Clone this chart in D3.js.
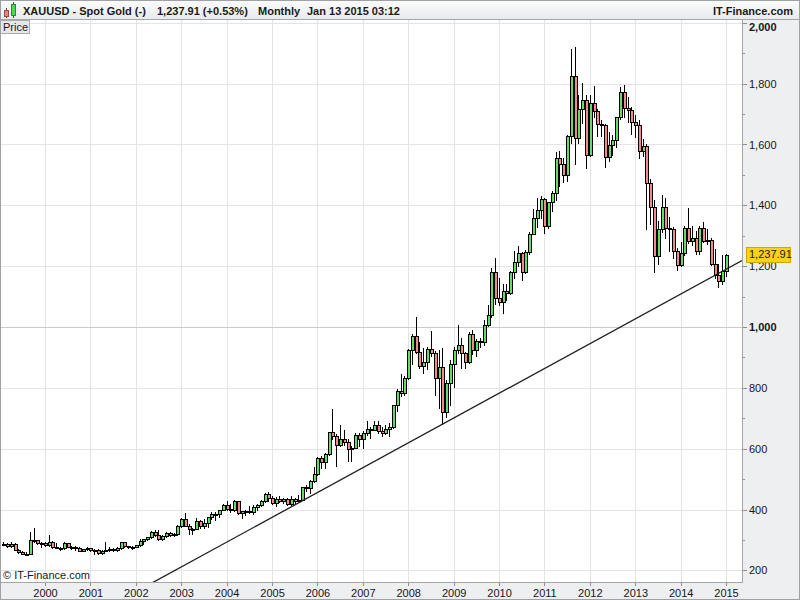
<!DOCTYPE html>
<html>
<head>
<meta charset="utf-8">
<script src="https://cdn.jsdelivr.net/npm/d3@7"></script>
<style>
  body { margin: 0; background: #fff; }
  svg { display: block; font-family: "Liberation Sans", Arial, sans-serif; }
</style>
</head>
<body>
<div id="chart"></div>
<script>
"use strict";

// Spot gold, monthly candles from Feb 1999 to Jan 2015
const firstMonth = new Date(1999, 1, 1);

const openPrices = [
    287.0, 287.5, 279.5, 286.0, 268.5, 261.5, 255.5, 254.5, 298.5, 299.0, 291.5,                  // 1999
    288.5, 283.5, 293.5, 278.5, 275.0, 272.5, 288.5, 277.0, 277.5, 273.5, 264.5, 269.5,           // 2000
    272.5, 265.5, 266.5, 258.0, 263.5, 267.0, 270.5, 266.0, 273.0, 293.0, 279.0, 275.5,           // 2001
    278.5, 282.5, 296.5, 302.0, 308.5, 326.5, 318.0, 304.5, 312.5, 324.0, 317.0, 318.5,           // 2002
    347.5, 367.5, 347.5, 334.5, 337.5, 361.0, 346.5, 354.5, 375.5, 386.0, 384.0, 398.0,           // 2003
    416.0, 402.0, 397.0, 427.5, 387.5, 394.0, 395.5, 391.5, 408.0, 415.5, 428.0, 452.5,           // 2004
    438.0, 422.5, 434.5, 428.5, 435.5, 417.0, 436.0, 429.0, 433.0, 473.0, 470.0, 495.5,           // 2005
    517.0, 568.5, 556.0, 582.0, 654.0, 643.0, 613.5, 632.5, 623.5, 599.5, 603.5, 646.5,           // 2006
    632.0, 650.5, 664.5, 661.5, 679.5, 657.0, 650.5, 665.5, 672.5, 743.0, 789.5, 783.5,           // 2007
    833.5, 923.5, 971.5, 917.0, 872.0, 885.0, 927.0, 913.0, 831.0, 870.0, 721.0, 815.0,           // 2008
    877.0, 925.0, 941.0, 916.0, 885.0, 977.0, 926.0, 954.0, 951.0, 1007.0, 1040.0, 1181.0,        // 2009
    1096.0, 1081.0, 1118.0, 1113.0, 1180.0, 1213.0, 1244.0, 1181.0, 1247.0, 1307.0, 1359.0, 1386.0, // 2010
    1421, 1333, 1410, 1439, 1556, 1536, 1500, 1628, 1826, 1620, 1716, 1746,                       // 2011
    1565, 1738, 1710, 1668, 1664, 1560, 1598, 1615, 1691, 1773, 1719, 1713,                       // 2012
    1675, 1663, 1578, 1595, 1472, 1393, 1234, 1323, 1396, 1327, 1323, 1250,                       // 2013
    1204, 1244, 1326, 1284, 1291, 1250, 1327, 1282, 1287, 1208, 1171, 1150,                       // 2014
    1184                                                                                          // 2015
];

const highPrices = [
    292.0, 290.0, 292.0, 290.0, 270.0, 264.0, 260.0, 326.0, 338.0, 301.5, 292.5,
    292.0, 316.0, 295.0, 289.0, 277.5, 294.0, 291.5, 279.5, 279.5, 275.5, 271.5, 275.5,
    273.5, 270.5, 270.0, 266.0, 294.0, 275.5, 272.0, 278.5, 294.0, 293.5, 280.0, 280.5,
    284.0, 303.5, 304.5, 309.0, 328.0, 332.0, 331.5, 316.5, 327.0, 325.0, 324.5, 350.0,
    372.0, 389.0, 353.0, 341.0, 371.5, 367.0, 369.0, 377.0, 391.5, 393.5, 399.0, 417.5,
    427.0, 418.0, 431.5, 429.0, 396.0, 399.0, 411.0, 414.0, 418.5, 430.5, 456.0, 456.5,
    443.0, 440.0, 445.5, 438.0, 437.0, 443.0, 437.0, 448.0, 475.0, 480.0, 497.0, 541.0,
    572.0, 575.0, 585.0, 655.0, 730.0, 647.0, 677.0, 663.0, 633.0, 608.0, 650.0, 650.0,
    659.0, 690.0, 671.0, 692.0, 691.0, 672.0, 679.0, 684.0, 745.0, 795.0, 845.0, 840.0,
    928.0, 976.0, 1033.0, 951.0, 930.0, 935.0, 988.0, 920.0, 923.0, 930.0, 827.0, 890.0,
    935.0, 1006.0, 963.0, 917.0, 982.0, 990.0, 960.0, 964.0, 1024.0, 1072.0, 1195.0, 1227.0,
    1162.0, 1141.0, 1140.0, 1184.0, 1250.0, 1265.0, 1245.0, 1252.0, 1311.0, 1388.0, 1425.0, 1431.0,
    1424, 1411, 1447, 1576, 1577, 1556, 1632, 1913, 1921, 1764, 1803, 1764,
    1764, 1792, 1718, 1680, 1667, 1641, 1632, 1692, 1790, 1796, 1755, 1723,
    1696, 1681, 1617, 1600, 1487, 1419, 1348, 1434, 1425, 1361, 1330, 1261,
    1280, 1332, 1392, 1331, 1315, 1332, 1345, 1322, 1291, 1255, 1208, 1238,
    1240
];

const lowPrices = [
    282.5, 278.0, 278.5, 266.5, 256.5, 252.5, 252.0, 252.5, 292.0, 288.0, 275.5,
    281.5, 281.0, 274.5, 272.5, 268.5, 271.5, 275.5, 270.5, 266.5, 263.5, 262.5, 266.5,
    262.5, 255.5, 255.5, 255.0, 262.5, 264.5, 264.5, 265.0, 270.5, 277.0, 272.5, 270.5,
    276.5, 281.0, 286.5, 299.0, 307.5, 314.0, 301.5, 300.5, 311.0, 311.5, 314.0, 317.0,
    342.5, 344.5, 320.5, 319.0, 337.0, 341.0, 341.0, 343.0, 370.5, 364.5, 377.0, 397.0,
    397.5, 390.5, 395.5, 386.5, 371.5, 381.0, 387.5, 386.0, 397.0, 410.5, 423.5, 428.5,
    417.5, 411.0, 424.0, 423.0, 414.0, 414.0, 418.0, 427.0, 432.0, 461.0, 456.0, 490.0,
    515.0, 538.0, 537.0, 580.0, 633.0, 543.0, 609.0, 612.0, 560.0, 560.0, 602.0, 610.0,
    603.0, 646.0, 636.0, 661.0, 650.0, 641.0, 648.0, 642.0, 668.0, 725.0, 773.0, 777.0,
    830.0, 877.0, 913.0, 864.0, 848.0, 863.0, 904.0, 775.0, 735.0, 681.0, 705.0, 743.0,
    802.0, 914.0, 865.0, 865.0, 882.0, 912.0, 905.0, 933.0, 942.0, 1003.0, 1034.0, 1075.0,
    1074.0, 1045.0, 1088.0, 1108.0, 1160.0, 1200.0, 1155.0, 1177.0, 1241.0, 1305.0, 1330.0, 1360.0,
    1308, 1324, 1381, 1418, 1462, 1478, 1480, 1604, 1535, 1605, 1670, 1523,
    1563, 1689, 1628, 1628, 1527, 1547, 1564, 1593, 1685, 1690, 1673, 1635,
    1626, 1555, 1562, 1321, 1338, 1180, 1208, 1311, 1292, 1251, 1227, 1187,
    1201, 1238, 1277, 1269, 1240, 1240, 1280, 1273, 1205, 1161, 1131, 1142,
    1167
];

const closePrices = [
    287.5, 279.5, 286.0, 268.5, 261.5, 255.5, 254.5, 298.5, 299.0, 291.5, 288.5,
    283.5, 293.5, 278.5, 275.0, 272.5, 288.5, 277.0, 277.5, 273.5, 264.5, 269.5, 272.5,
    265.5, 266.5, 258.0, 263.5, 267.0, 270.5, 266.0, 273.0, 293.0, 279.0, 275.5, 278.5,
    282.5, 296.5, 302.0, 308.5, 326.5, 318.0, 304.5, 312.5, 324.0, 317.0, 318.5, 347.5,
    367.5, 347.5, 334.5, 337.5, 361.0, 346.5, 354.5, 375.5, 386.0, 384.0, 398.0, 416.0,
    402.0, 397.0, 427.5, 387.5, 394.0, 395.5, 391.5, 408.0, 415.5, 428.0, 452.5, 438.0,
    422.5, 434.5, 428.5, 435.5, 417.0, 436.0, 429.0, 433.0, 473.0, 470.0, 495.5, 517.0,
    568.5, 556.0, 582.0, 654.0, 643.0, 613.5, 632.5, 623.5, 599.5, 603.5, 646.5, 632.0,
    650.5, 664.5, 661.5, 679.5, 657.0, 650.5, 665.5, 672.5, 743.0, 789.5, 783.5, 833.5,
    923.5, 971.5, 917.0, 872.0, 885.0, 927.0, 913.0, 831.0, 870.0, 721.0, 815.0, 877.0,
    925.0, 941.0, 916.0, 885.0, 977.0, 926.0, 954.0, 951.0, 1007.0, 1040.0, 1181.0, 1096.0,
    1081.0, 1118.0, 1113.0, 1180.0, 1213.0, 1244.0, 1181.0, 1247.0, 1307.0, 1359.0, 1386.0, 1421.0,
    1333, 1410, 1439, 1556, 1536, 1500, 1628, 1826, 1620, 1716, 1746, 1565,
    1738, 1710, 1668, 1664, 1560, 1598, 1615, 1691, 1773, 1719, 1713, 1675,
    1663, 1578, 1595, 1472, 1393, 1234, 1323, 1396, 1327, 1323, 1250, 1204,
    1244, 1326, 1284, 1291, 1250, 1327, 1282, 1287, 1208, 1171, 1150, 1184,
    1237.91
];

const priceTicks = [200, 400, 600, 800, 1000, 1200, 1400, 1600, 1800, 2000];
const minorPriceTicks = [300, 500, 700, 900, 1100, 1300, 1500, 1700, 1900];
const lastPrice = 1237.91;

// support line drawn through the Oct 2008 and Nov 2014 lows
const trendAnchors = [
    { date: new Date(2008, 9, 1), price: 680 },
    { date: new Date(2014, 10, 1), price: 1176 }
];

const headerTexts = [
    { text: "XAUUSD - Spot Gold (-)", x: 23 },
    { text: "1,237.91 (+0.53%)", x: 157 },
    { text: "Monthly", x: 258 },
    { text: "Jan 13 2015 03:12", x: 307 }
];

// Layout
const W = 800, H = 600;
const plot = { left: 0, right: 742, top: 20, bottom: 582 };
const upColor = "#66dc66";
const downColor = "#f08c8c";
const panelColor = "#eeeff1";
const gridColor = "#e4e4e4";
const textColor = "#16161e";

const candles = closePrices.map((c, i) => ({
    date: d3.timeMonth.offset(firstMonth, i),
    open: openPrices[i],
    high: highPrices[i],
    low: lowPrices[i],
    close: c
}));

// Scales: Jan 2000 sits on x=45, Jan 2015 on x=726
const x = d3.scaleTime()
    .domain([new Date(2000, 0, 1), new Date(2015, 0, 1)])
    .range([45, 726]);
x.domain([x.invert(plot.left), x.invert(plot.right)]).range([plot.left, plot.right]);

const y = d3.scaleLinear()
    .domain([200, 2000])
    .range([570.4, 22.8]);

const svg = d3.select("#chart")
    .append("svg")
    .attr("width", W)
    .attr("height", H);

const defs = svg.append("defs");
const grad = defs.append("linearGradient")
    .attr("id", "headGrad")
    .attr("x1", 0).attr("y1", 0).attr("x2", 0).attr("y2", 1);
grad.append("stop").attr("offset", "0%").attr("stop-color", "#fdfdfd");
grad.append("stop").attr("offset", "100%").attr("stop-color", "#e7e9eb");

defs.append("clipPath").attr("id", "plotClip")
    .append("rect")
    .attr("x", plot.left).attr("y", plot.top)
    .attr("width", plot.right - plot.left)
    .attr("height", plot.bottom - plot.top);

// Background and panels
svg.append("rect").attr("width", W).attr("height", H).attr("fill", "#fff");
svg.append("rect")
    .attr("x", plot.right).attr("y", plot.top)
    .attr("width", W - plot.right).attr("height", H - plot.top)
    .attr("fill", panelColor);
svg.append("rect")
    .attr("x", 0).attr("y", plot.bottom)
    .attr("width", plot.right).attr("height", H - plot.bottom)
    .attr("fill", panelColor);

//#region Grid
const yearTicks = x.ticks(d3.timeYear.every(1));

const grid = svg.append("g").attr("shape-rendering", "crispEdges");
grid.selectAll(".vgrid")
    .data(yearTicks)
    .join("line")
    .attr("class", "vgrid")
    .attr("x1", d => Math.round(x(d)) + 0.5)
    .attr("x2", d => Math.round(x(d)) + 0.5)
    .attr("y1", plot.top)
    .attr("y2", plot.bottom)
    .attr("stroke", gridColor);

grid.selectAll(".hgrid")
    .data(priceTicks)
    .join("line")
    .attr("class", "hgrid")
    .attr("x1", plot.left)
    .attr("x2", plot.right)
    .attr("y1", d => Math.round(y(d)) + 0.5)
    .attr("y2", d => Math.round(y(d)) + 0.5)
    .attr("stroke", d => d === 1000 ? "#cbcbcb" : gridColor);
//#endregion

//#region Candles
// body = 1px border, 2px fill, 1px border; wick on the left fill column
const candleG = svg.append("g")
    .attr("clip-path", "url(#plotClip)")
    .attr("shape-rendering", "crispEdges");

const candle = candleG.selectAll(".candle")
    .data(candles)
    .join("g")
    .attr("class", "candle");

candle.append("line")
    .attr("x1", d => Math.round(x(d.date)) + 0.5)
    .attr("x2", d => Math.round(x(d.date)) + 0.5)
    .attr("y1", d => Math.round(y(d.high)))
    .attr("y2", d => Math.round(y(d.low)) + 1)
    .attr("stroke", "#000");

candle.append("rect")
    .attr("x", d => Math.round(x(d.date)) - 0.5)
    .attr("width", 3)
    .attr("y", d => Math.round(y(Math.max(d.open, d.close))) + 0.5)
    .attr("height", d => Math.max(1, Math.round(y(Math.min(d.open, d.close))) - Math.round(y(Math.max(d.open, d.close)))))
    .attr("fill", d => d.close >= d.open ? upColor : downColor)
    .attr("stroke", "#000");
//#endregion

// Trend line, extended across the plot
const slope = (trendAnchors[1].price - trendAnchors[0].price) / (trendAnchors[1].date - trendAnchors[0].date);
const priceAt = t => trendAnchors[0].price + slope * (t - trendAnchors[0].date);
const [d0, d1] = x.domain();
svg.append("line")
    .attr("clip-path", "url(#plotClip)")
    .attr("x1", x(d0)).attr("y1", y(priceAt(d0)))
    .attr("x2", x(d1)).attr("y2", y(priceAt(d1)))
    .attr("stroke", "#1e1e1e")
    .attr("stroke-width", 1.3);

//#region Axes
const xAxis = svg.append("g")
    .attr("transform", `translate(0,${plot.bottom})`)
    .call(d3.axisBottom(x)
        .tickValues(yearTicks)
        .tickFormat(d3.timeFormat("%Y"))
        .tickSize(4)
        .tickPadding(3));
xAxis.select(".domain").remove();
xAxis.selectAll(".tick line").attr("stroke", "#8a8e92").attr("shape-rendering", "crispEdges");
xAxis.selectAll(".tick text")
    .attr("font-size", 11)
    .attr("fill", textColor)
    .attr("font-family", "Liberation Sans, Arial, sans-serif");

const yAxis = svg.append("g")
    .attr("transform", `translate(${plot.right},0)`)
    .call(d3.axisRight(y)
        .tickValues(priceTicks)
        .tickFormat(d3.format(","))
        .tickSize(5)
        .tickPadding(2));
yAxis.select(".domain").remove();
yAxis.selectAll(".tick line").attr("stroke", "#8a8e92").attr("shape-rendering", "crispEdges");
yAxis.selectAll(".tick text")
    .attr("font-size", 11)
    .attr("fill", textColor)
    .attr("font-weight", d => d % 1000 === 0 ? "bold" : "normal")
    .attr("font-family", "Liberation Sans, Arial, sans-serif")
    .attr("y", d => Math.max(0, 27 - y(d)));

const yMinor = svg.append("g")
    .attr("transform", `translate(${plot.right},0)`)
    .call(d3.axisRight(y).tickValues(minorPriceTicks).tickFormat("").tickSize(3));
yMinor.select(".domain").remove();
yMinor.selectAll(".tick line").attr("stroke", "#8a8e92").attr("shape-rendering", "crispEdges");

// Axis borders
const border = svg.append("g").attr("shape-rendering", "crispEdges").attr("stroke", "#a3a7ab");
border.append("line")
    .attr("x1", plot.right + 0.5).attr("x2", plot.right + 0.5)
    .attr("y1", plot.top).attr("y2", plot.bottom + 1);
border.append("line")
    .attr("x1", 0).attr("x2", plot.right + 1)
    .attr("y1", plot.bottom + 0.5).attr("y2", plot.bottom + 0.5);
//#endregion

// Last price tag
const tagY = y(lastPrice);
svg.append("rect")
    .attr("x", 746.5).attr("y", Math.round(tagY) - 7.5)
    .attr("width", 44).attr("height", 15)
    .attr("fill", "#fbd11a")
    .attr("stroke", "#d2a800")
    .attr("shape-rendering", "crispEdges");
svg.append("text")
    .attr("x", 749).attr("y", tagY)
    .attr("dy", "0.35em")
    .attr("font-size", 11)
    .attr("fill", "#1a1a1a")
    .text(d3.format(",.2f")(lastPrice));

// Copyright note
svg.append("text")
    .attr("x", 3).attr("y", 579)
    .attr("font-size", 11)
    .attr("fill", "#1a1a1a")
    .text("\u00A9 IT-Finance.com");

//#region Header
svg.append("rect")
    .attr("width", W).attr("height", plot.top)
    .attr("fill", "url(#headGrad)");
svg.append("line")
    .attr("x1", 0).attr("x2", W)
    .attr("y1", plot.top - 0.5).attr("y2", plot.top - 0.5)
    .attr("stroke", "#a3a7ab")
    .attr("shape-rendering", "crispEdges");

// small candle icon
const icon = svg.append("g").attr("shape-rendering", "crispEdges");
icon.append("line").attr("x1", 6.5).attr("x2", 6.5).attr("y1", 8).attr("y2", 18).attr("stroke", "#7a3a3a");
icon.append("rect").attr("x", 4.5).attr("y", 10.5).attr("width", 4).attr("height", 6)
    .attr("fill", "#ee7f7f").attr("stroke", "#a04848");
icon.append("line").attr("x1", 13.5).attr("x2", 13.5).attr("y1", 2).attr("y2", 18).attr("stroke", "#2f6e2f");
icon.append("rect").attr("x", 11.5).attr("y", 4.5).attr("width", 4).attr("height", 11)
    .attr("fill", "#4fd64f").attr("stroke", "#2f8a2f");

svg.selectAll(".head-text")
    .data(headerTexts)
    .join("text")
    .attr("class", "head-text")
    .attr("x", d => d.x)
    .attr("y", 15)
    .attr("font-size", 11)
    .attr("font-weight", "bold")
    .attr("fill", "#1a1a1a")
    .text(d => d.text);

svg.append("text")
    .attr("x", 793).attr("y", 15)
    .attr("text-anchor", "end")
    .attr("font-size", 11)
    .attr("font-weight", "bold")
    .attr("fill", "#1a1a1a")
    .text("IT-Finance.com");
//#endregion

// "Price" pane caption
svg.append("rect")
    .attr("x", 0.5).attr("y", plot.top + 0.5)
    .attr("width", 29).attr("height", 13)
    .attr("fill", "#e6e7e9")
    .attr("stroke", "#a8abae")
    .attr("shape-rendering", "crispEdges");
svg.append("text")
    .attr("x", 3).attr("y", 31)
    .attr("font-size", 11)
    .attr("fill", "#1a1a1a")
    .text("Price");

// Outer frame
svg.append("rect")
    .attr("x", 0.5).attr("y", 0.5)
    .attr("width", W - 1).attr("height", H - 1)
    .attr("fill", "none")
    .attr("stroke", "#9ea2a6")
    .attr("shape-rendering", "crispEdges");
</script>
</body>
</html>
